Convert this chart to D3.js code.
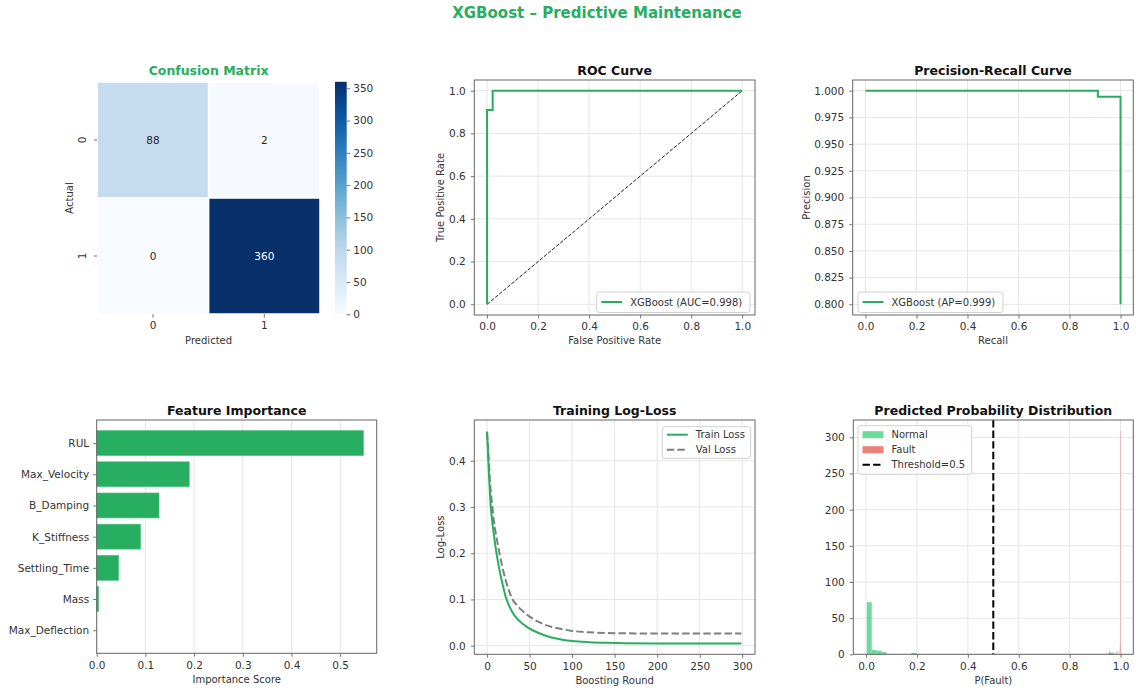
<!DOCTYPE html>
<html>
<head>
<meta charset="utf-8">
<script src="https://cdn.jsdelivr.net/npm/d3@7"></script>
<style>
  body { margin: 0; background: #fff; }
  svg { display: block; font-family: "DejaVu Sans", "Liberation Sans", sans-serif; }
</style>
</head>
<body>
<svg id="fig" width="1136" height="690"></svg>
<script>
// ---------- data ----------
const cmLabels = ["0", "1"];
const cmValues = [[88, 2], [0, 360]];
const cbTicks = [0, 50, 100, 150, 200, 250, 300, 350];

const rocFpr = [0, 0, 0.022, 0.022, 1];
const rocTpr = [0, 0.91, 0.91, 1, 1];
const rocLabel = "XGBoost (AUC=0.998)";

const prRecall = [0, 0.911, 0.911, 1, 1];
const prPrecision = [1, 1, 0.9943, 0.9943, 0.8];
const prLabel = "XGBoost (AP=0.999)";

const features = ["RUL", "Max_Velocity", "B_Damping", "K_Stiffness", "Settling_Time", "Mass", "Max_Deflection"];
const importances = [0.548, 0.190, 0.128, 0.090, 0.045, 0.004, 0.0];

const rounds    = [0, 2, 4, 6, 8, 10, 12, 15, 18, 22, 26, 30, 35, 40, 45, 50, 60, 70, 80, 90, 100, 120, 140, 160, 200, 250, 299];
const trainLoss = [0.463, 0.38, 0.31, 0.27, 0.24, 0.213, 0.19, 0.16, 0.135, 0.105, 0.086, 0.072, 0.059, 0.050, 0.043, 0.037, 0.028, 0.021, 0.016, 0.0125, 0.010, 0.0075, 0.0062, 0.0055, 0.0049, 0.0047, 0.0046];
const valLoss   = [0.462, 0.40, 0.34, 0.305, 0.27, 0.245, 0.225, 0.196, 0.17, 0.141, 0.118, 0.100, 0.088, 0.078, 0.070, 0.063, 0.052, 0.044, 0.039, 0.035, 0.032, 0.029, 0.0275, 0.0268, 0.0265, 0.0265, 0.0265];

const normalBinStarts = [0.003, 0.0224, 0.0418, 0.0612, 0.1782, 0.9536];
const normalCounts    = [72, 6, 5, 3, 2, 2];
const normalBinWidth  = 0.0194;
const faultBinStarts  = [0.9426, 0.9538, 0.9566, 0.9608, 0.9664, 0.9720, 0.9790, 0.9832, 0.9860, 0.9930, 0.9972, 0.9986];
const faultCounts     = [2, 3, 6, 3, 2, 2, 3, 4, 4, 5, 17, 309];
const faultBinWidth   = 0.0014;
const threshold = 0.5;

// ---------- styles ----------
const GREEN = "#27ae60";
const TICK_FS = 10.5, LABEL_FS = 10, TITLE_FS = 12.5, LEGEND_FS = 10;
const GRID = "#e6e6e6", SPINE = "#666", TEXT = "#333";

const svg = d3.select("#fig");
svg.append("rect").attr("width", 1136).attr("height", 690).attr("fill", "#fff");

svg.append("text")
  .attr("x", 597).attr("y", 13).attr("text-anchor", "middle").attr("dominant-baseline", "central")
  .attr("font-size", 15).attr("font-weight", "bold").attr("fill", GREEN)
  .text("XGBoost – Predictive Maintenance");

function styleAxis(sel) {
  sel.select(".domain").remove();
  sel.selectAll(".tick line").attr("stroke", SPINE).attr("stroke-width", 0.9);
  sel.selectAll(".tick text").attr("font-size", TICK_FS).attr("fill", TEXT)
    .attr("font-family", "DejaVu Sans, sans-serif");
}

// a matplotlib-style axes: grid, marks layer, spines, ticks, labels
function panel(box, xd, yd, cfg) {
  const x = d3.scaleLinear().domain(xd).range([box.l, box.r]);
  const y = d3.scaleLinear().domain(yd).range([box.b, box.t]);
  const g = svg.append("g");
  const grid = g.append("g");
  if (cfg.gridX) grid.selectAll(null).data(cfg.xTicks).join("line")
    .attr("x1", d => x(d)).attr("x2", d => x(d)).attr("y1", box.t).attr("y2", box.b)
    .attr("stroke", GRID).attr("stroke-width", 1);
  if (cfg.gridY) grid.selectAll(null).data(cfg.yTicks).join("line")
    .attr("y1", d => y(d)).attr("y2", d => y(d)).attr("x1", box.l).attr("x2", box.r)
    .attr("stroke", GRID).attr("stroke-width", 1);
  const marks = g.append("g");
  const frame = g.append("g");
  frame.append("g").attr("transform", `translate(0,${box.b})`)
    .call(d3.axisBottom(x).tickValues(cfg.xTicks).tickFormat(cfg.xFmt).tickSize(3.5).tickPadding(4.5))
    .call(styleAxis);
  frame.append("g").attr("transform", `translate(${box.l},0)`)
    .call(d3.axisLeft(y).tickValues(cfg.yTicks).tickFormat(cfg.yFmt).tickSize(3.5).tickPadding(cfg.yPad || 5))
    .call(styleAxis);
  frame.append("rect").attr("x", box.l).attr("y", box.t)
    .attr("width", box.r - box.l).attr("height", box.b - box.t)
    .attr("fill", "none").attr("stroke", SPINE).attr("stroke-width", 1);
  frame.append("text").attr("x", (box.l + box.r) / 2).attr("y", box.t - 9.5)
    .attr("text-anchor", "middle").attr("dominant-baseline", "central")
    .attr("font-size", TITLE_FS).attr("font-weight", "bold").attr("fill", "#111").text(cfg.title);
  if (cfg.xLabel) frame.append("text").attr("x", (box.l + box.r) / 2).attr("y", box.b + 25.7)
    .attr("text-anchor", "middle").attr("dominant-baseline", "central")
    .attr("font-size", LABEL_FS).attr("fill", TEXT).text(cfg.xLabel);
  if (cfg.yLabel) frame.append("text")
    .attr("transform", `translate(${box.l - cfg.yLabelOff},${(box.t + box.b) / 2}) rotate(-90)`)
    .attr("text-anchor", "middle").attr("dominant-baseline", "central")
    .attr("font-size", LABEL_FS).attr("fill", TEXT).text(cfg.yLabel);
  return { x, y, marks, frame };
}

function legend(parent, box, items) {
  const g = parent.append("g");
  g.append("rect").attr("x", box.l).attr("y", box.t).attr("width", box.r - box.l).attr("height", box.b - box.t)
    .attr("rx", 2.5).attr("fill", "rgba(255,255,255,0.85)").attr("stroke", "#cccccc").attr("stroke-width", 0.9);
  items.forEach((it, i) => {
    const cy = box.t + 8 + i * 15 + (it.offset || 0);
    const x0 = box.l + 4.5, x1 = x0 + 21;
    if (it.type === "patch") {
      g.append("rect").attr("x", x0).attr("y", cy - 3.5).attr("width", 21).attr("height", 7).attr("fill", it.color);
    } else {
      g.append("line").attr("x1", x0).attr("x2", x1).attr("y1", cy).attr("y2", cy)
        .attr("stroke", it.color).attr("stroke-width", 2).attr("stroke-dasharray", it.dash || null);
    }
    g.append("text").attr("x", x1 + 8).attr("y", cy).attr("dominant-baseline", "central")
      .attr("font-size", LEGEND_FS).attr("fill", TEXT).text(it.label);
  });
}

// ---------- confusion matrix ----------
(function () {
  const bx = d3.scaleBand().domain(cmLabels).range([97.3, 320]);
  const by = d3.scaleBand().domain(cmLabels).range([82, 314]);
  const vmax = 360;
  const color = v => d3.interpolateBlues(v / vmax);
  const g = svg.append("g");
  const cells = [];
  cmValues.forEach((row, i) => row.forEach((v, j) => cells.push({ a: cmLabels[i], p: cmLabels[j], v })));
  g.selectAll(null).data(cells).join("rect")
    .attr("x", d => bx(d.p)).attr("y", d => by(d.a))
    .attr("width", bx.bandwidth()).attr("height", by.bandwidth())
    .attr("fill", d => color(d.v)).attr("stroke", "#fff").attr("stroke-width", 1.5);
  g.selectAll(null).data(cells).join("text")
    .attr("x", d => bx(d.p) + bx.bandwidth() / 2).attr("y", d => by(d.a) + by.bandwidth() / 2)
    .attr("text-anchor", "middle").attr("dominant-baseline", "central").attr("font-size", 10.5)
    .attr("fill", d => d.v / vmax > 0.6 ? "#fff" : "#262626").text(d => d.v);

  g.append("g").attr("transform", "translate(0,314)")
    .call(d3.axisBottom(bx).tickSize(3.5).tickPadding(4.5)).call(styleAxis);
  const ay = g.append("g").attr("transform", "translate(97.3,0)")
    .call(d3.axisLeft(by).tickSize(3.5).tickPadding(5)).call(styleAxis);
  ay.selectAll(".tick text").attr("x", -15.5).attr("dy", null).attr("dominant-baseline", "central")
    .attr("text-anchor", "middle").attr("transform", "rotate(-90,-15.5,0)");

  g.append("text").attr("x", 208.6).attr("y", 70).attr("text-anchor", "middle").attr("dominant-baseline", "central")
    .attr("font-size", TITLE_FS).attr("font-weight", "bold").attr("fill", GREEN).text("Confusion Matrix");
  g.append("text").attr("x", 208.6).attr("y", 340.7).attr("text-anchor", "middle").attr("dominant-baseline", "central")
    .attr("font-size", LABEL_FS).attr("fill", TEXT).text("Predicted");
  g.append("text").attr("transform", "translate(69,198) rotate(-90)").attr("text-anchor", "middle")
    .attr("dominant-baseline", "central").attr("font-size", LABEL_FS).attr("fill", TEXT).text("Actual");

  // colour bar
  const cb = d3.scaleLinear().domain([0, vmax]).range([314.3, 81.8]);
  const defs = svg.append("defs");
  const grad = defs.append("linearGradient").attr("id", "cbGrad").attr("x1", 0).attr("y1", 1).attr("x2", 0).attr("y2", 0);
  d3.range(0, 1.0001, 0.05).forEach(t => grad.append("stop").attr("offset", t).attr("stop-color", d3.interpolateBlues(t)));
  g.append("rect").attr("x", 335).attr("y", 81.8).attr("width", 11.7).attr("height", 314.3 - 81.8).attr("fill", "url(#cbGrad)");
  g.append("g").attr("transform", "translate(346.7,0)")
    .call(d3.axisRight(cb).tickValues(cbTicks).tickSize(3.5).tickPadding(3)).call(styleAxis);
})();

// ---------- ROC curve ----------
(function () {
  const ticks = [0, 0.2, 0.4, 0.6, 0.8, 1.0];
  const p = panel({ l: 474.3, t: 80, r: 755, b: 315 }, [-0.05, 1.05], [-0.05, 1.05], {
    xTicks: ticks, yTicks: ticks, xFmt: d3.format(".1f"), yFmt: d3.format(".1f"), gridX: true, gridY: true,
    title: "ROC Curve", xLabel: "False Positive Rate", yLabel: "True Positive Rate", yLabelOff: 33.6
  });
  p.marks.append("line").attr("x1", p.x(0)).attr("y1", p.y(0)).attr("x2", p.x(1)).attr("y2", p.y(1))
    .attr("stroke", "#222").attr("stroke-width", 1).attr("stroke-dasharray", "3.7,1.6");
  const line = d3.line().x(d => p.x(d[0])).y(d => p.y(d[1]));
  p.marks.append("path").attr("d", line(d3.zip(rocFpr, rocTpr)))
    .attr("fill", "none").attr("stroke", GREEN).attr("stroke-width", 2);
  legend(p.frame, { l: 596.7, t: 292, r: 750, b: 312.5 }, [{ type: "line", color: GREEN, label: rocLabel, offset: 2 }]);
})();

// ---------- precision-recall ----------
(function () {
  const p = panel({ l: 852.7, t: 80, r: 1133.3, b: 315 }, [-0.05, 1.05], [0.79, 1.01], {
    xTicks: [0, 0.2, 0.4, 0.6, 0.8, 1.0], yTicks: [0.8, 0.825, 0.85, 0.875, 0.9, 0.925, 0.95, 0.975, 1.0],
    xFmt: d3.format(".1f"), yFmt: d3.format(".3f"), gridX: true, gridY: true,
    title: "Precision-Recall Curve", xLabel: "Recall", yLabel: "Precision", yLabelOff: 46
  });
  const line = d3.line().x(d => p.x(d[0])).y(d => p.y(d[1]));
  p.marks.append("path").attr("d", line(d3.zip(prRecall, prPrecision)))
    .attr("fill", "none").attr("stroke", GREEN).attr("stroke-width", 2);
  legend(p.frame, { l: 858, t: 292, r: 1003, b: 312.5 }, [{ type: "line", color: GREEN, label: prLabel, offset: 2 }]);
})();

// ---------- feature importance ----------
(function () {
  const idx = features.map((_, i) => i);
  const p = panel({ l: 96.7, t: 420, r: 376.7, b: 653.3 }, [0, 0.575], [6.74, -0.74], {
    xTicks: [0, 0.1, 0.2, 0.3, 0.4, 0.5], yTicks: idx, xFmt: d3.format(".1f"), yFmt: i => features[i],
    gridX: true, gridY: false, yPad: 4, title: "Feature Importance", xLabel: "Importance Score"
  });
  p.marks.selectAll(null).data(idx).join("rect")
    .attr("x", p.x(0)).attr("y", i => p.y(i - 0.4))
    .attr("width", i => p.x(importances[i]) - p.x(0)).attr("height", i => p.y(i + 0.4) - p.y(i - 0.4))
    .attr("fill", GREEN).attr("stroke", "#4cc27f").attr("stroke-width", 0.6);
})();

// ---------- training log-loss ----------
(function () {
  const p = panel({ l: 474.3, t: 420, r: 755, b: 654.3 }, [-15, 315], [-0.0186, 0.488], {
    xTicks: [0, 50, 100, 150, 200, 250, 300], yTicks: [0, 0.1, 0.2, 0.3, 0.4],
    xFmt: d3.format("d"), yFmt: d3.format(".1f"), gridX: true, gridY: true,
    title: "Training Log-Loss", xLabel: "Boosting Round", yLabel: "Log-Loss", yLabelOff: 33.6
  });
  const line = d3.line().curve(d3.curveMonotoneX).x(d => p.x(d[0])).y(d => p.y(d[1]));
  p.marks.append("path").attr("d", line(d3.zip(rounds, valLoss)))
    .attr("fill", "none").attr("stroke", "#7f7f7f").attr("stroke-width", 2).attr("stroke-dasharray", "7.4,3.2");
  p.marks.append("path").attr("d", line(d3.zip(rounds, trainLoss)))
    .attr("fill", "none").attr("stroke", GREEN).attr("stroke-width", 2);
  legend(p.frame, { l: 662.3, t: 426.7, r: 750.7, b: 458.3 }, [
    { type: "line", color: GREEN, label: "Train Loss" },
    { type: "line", color: "#7f7f7f", dash: "7.4,3.2", label: "Val Loss" }
  ]);
})();

// ---------- predicted probability distribution ----------
(function () {
  const p = panel({ l: 853.3, t: 420, r: 1133.3, b: 654.3 }, [-0.05, 1.05], [0, 324], {
    xTicks: [0, 0.2, 0.4, 0.6, 0.8, 1.0], yTicks: [0, 50, 100, 150, 200, 250, 300],
    xFmt: d3.format(".1f"), yFmt: d3.format("d"), gridX: true, gridY: true,
    title: "Predicted Probability Distribution", xLabel: "P(Fault)"
  });
  const normalFill = "rgba(46,204,113,0.7)", faultFill = "rgba(231,76,60,0.7)";
  p.marks.selectAll(null).data(d3.zip(normalBinStarts, normalCounts)).join("rect")
    .attr("x", d => p.x(d[0])).attr("width", p.x(normalBinWidth) - p.x(0))
    .attr("y", d => p.y(d[1])).attr("height", d => p.y(0) - p.y(d[1])).attr("fill", normalFill);
  p.marks.selectAll(null).data(d3.zip(faultBinStarts, faultCounts)).join("rect")
    .attr("x", d => p.x(d[0])).attr("width", p.x(faultBinWidth) - p.x(0))
    .attr("y", d => p.y(d[1])).attr("height", d => p.y(0) - p.y(d[1])).attr("fill", faultFill);
  p.marks.append("line").attr("x1", p.x(threshold)).attr("x2", p.x(threshold)).attr("y1", 420).attr("y2", 654.3)
    .attr("stroke", "#000").attr("stroke-width", 2).attr("stroke-dasharray", "7.4,3.2");
  legend(p.frame, { l: 858, t: 425.7, r: 971.7, b: 474.3 }, [
    { type: "patch", color: normalFill, label: "Normal", offset: 1 },
    { type: "patch", color: faultFill, label: "Fault", offset: 1 },
    { type: "line", color: "#000", dash: "7.4,3.2", label: "Threshold=0.5", offset: 1 }
  ]);
})();
</script>
</body>
</html>
